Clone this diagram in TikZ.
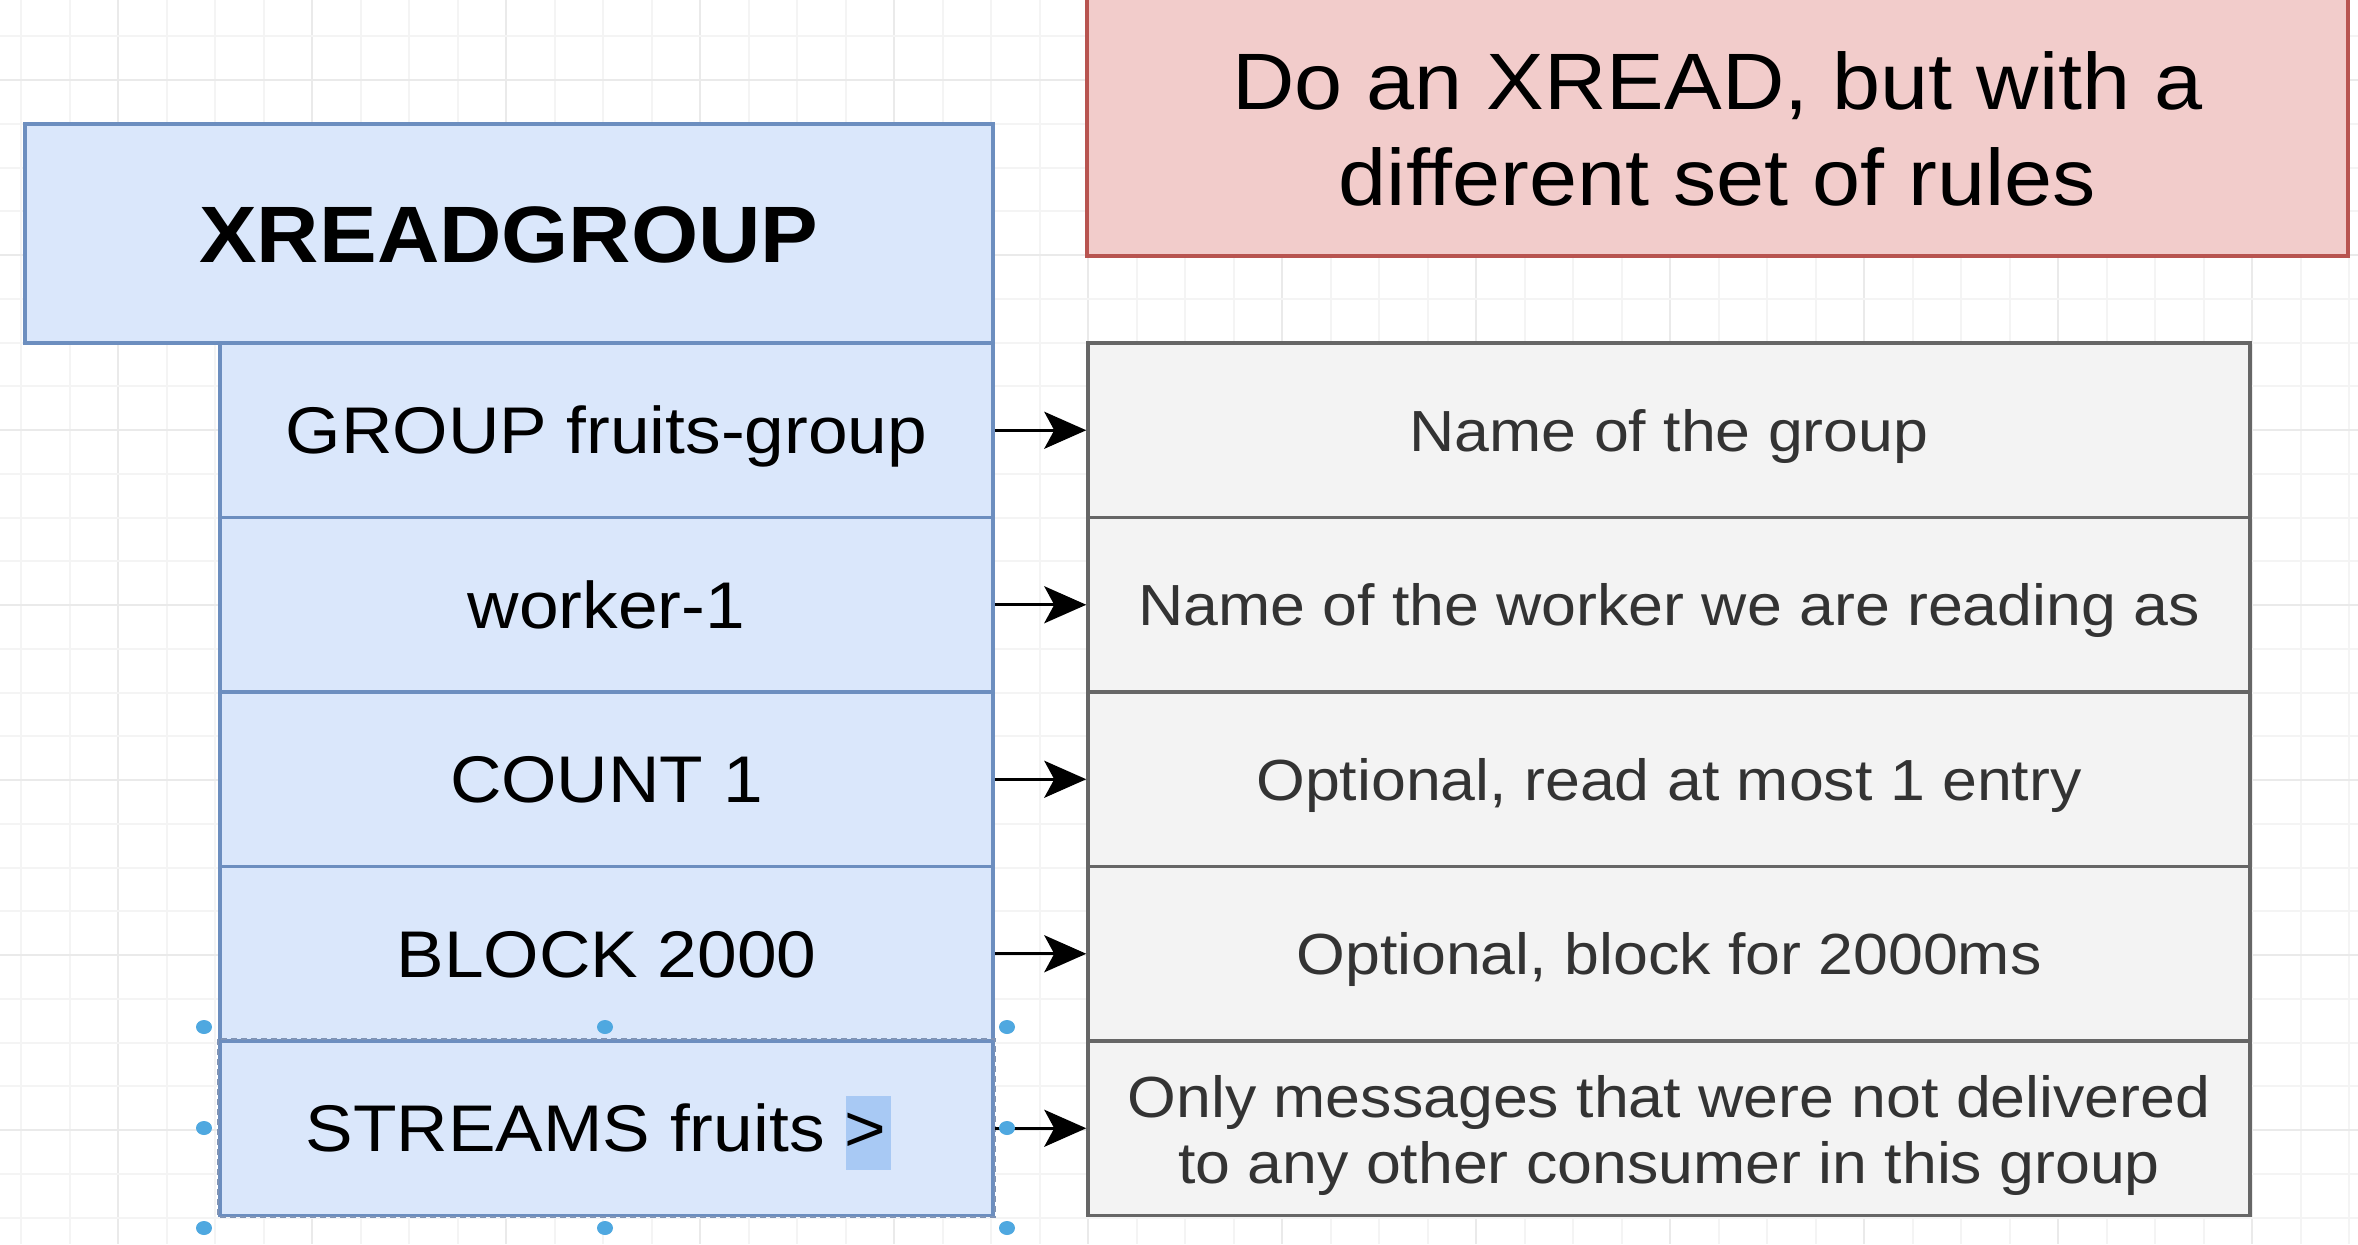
\documentclass[tikz,border=0pt]{standalone}
\usepackage{fontspec}
\setmainfont{Liberation Sans}[FakeStretch=1.08]
\usetikzlibrary{arrows.meta}
\definecolor{bluefill}{HTML}{DAE7FB}
\definecolor{bluedraw}{HTML}{6C8EBF}
\definecolor{grayfill}{HTML}{F3F3F3}
\definecolor{graydraw}{HTML}{666666}
\definecolor{graytext}{HTML}{333333}
\definecolor{redfill}{HTML}{F2CCCB}
\definecolor{reddraw}{HTML}{B85450}
\definecolor{gridminor}{HTML}{F4F4F4}
\definecolor{gridmajor}{HTML}{EAEAEA}
\definecolor{handle}{HTML}{4FA8E0}
\definecolor{selhl}{HTML}{A8C9F4}
\definecolor{seldash}{HTML}{7F93B5}
\begin{document}
\begin{tikzpicture}[x=0.5pt,y=-0.5pt,
  cmdbox/.style={draw=bluedraw, fill=bluefill, line width=1.75pt,
    minimum width=386.5pt, minimum height=87.25pt, inner sep=0pt,
    text height=23.6pt, text depth=0pt, font=\fontsize{33}{40}\selectfont},
  descbox/.style={draw=graydraw, fill=grayfill, line width=1.75pt,
    minimum width=581pt, minimum height=87.25pt, inner sep=0pt,
    text height=20.8pt, text depth=0pt, text=graytext,
    font=\fontsize{29}{33}\selectfont},
  arr/.style={line width=1.5pt, -{Stealth[length=21pt, width=18.5pt, inset=5pt]}},
  hdot/.style={fill=handle}
]
\useasboundingbox (0,0) rectangle (2358,1244);
\fill[white] (0,0) rectangle (2358,1244);
% grid
\foreach \k in {0,...,48}{
  \pgfmathtruncatemacro\m{mod(\k,4)}
  \ifnum\m=2
    \draw[gridmajor, line width=1pt] ({21+48.5*\k},0) -- ({21+48.5*\k},1244);
  \else
    \draw[gridminor, line width=1pt] ({21+48.5*\k},0) -- ({21+48.5*\k},1244);
  \fi
}
\foreach \j in {-1,...,26}{
  \pgfmathtruncatemacro\m{mod(\j+4,4)}
  \ifnum\m=0
    \draw[gridmajor, line width=1pt] (0,{80+43.75*\j}) -- (2358,{80+43.75*\j});
  \else
    \draw[gridminor, line width=1pt] (0,{80+43.75*\j}) -- (2358,{80+43.75*\j});
  \fi
}
% red box
\node[draw=reddraw, fill=redfill, line width=1.75pt, minimum width=630.5pt,
  minimum height=138pt, inner sep=0pt] (r) at (1717.5,118) {};
\node[align=center, font=\fontsize{40}{45}\selectfont, inner sep=0pt] (rt) at (1717.5,129)
  {Do an XREAD, but with a\\[3pt]different set of rules};
% title
\node[draw=bluedraw, fill=bluefill, line width=1.75pt, minimum width=484pt,
  minimum height=109.5pt, inner sep=0pt, text height=28.6pt, text depth=0pt,
  font=\bfseries\fontsize{40}{45}\selectfont] (t) at (509,233.5) {XREADGROUP};
% left column
\node[cmdbox] (c1) at (606.5,430.25) {GROUP fruits-group};
\node[cmdbox] (c2) at (606.5,604.75) {worker-1};
\node[cmdbox] (c3) at (606.5,779.25) {COUNT 1};
\node[cmdbox] (c4) at (606.5,953.75) {BLOCK 2000};
\node[cmdbox] (c5) at (606.5,1128.25) {};
\fill[selhl] (846,1096) rectangle (891,1170);
\node[cmdbox, draw=none, fill=none] (c5t) at (596,1128.25) {STREAMS fruits >};
\draw[seldash, line width=0.8pt, dash pattern=on 3pt off 2pt] (c5.north west) rectangle (c5.south east);
% right column
\node[descbox] (d1) at (1669,430.25) {Name of the group};
\node[descbox] (d2) at (1669,604.75) {Name of the worker we are reading as};
\node[descbox] (d3) at (1669,779.25) {Optional, read at most 1 entry};
\node[descbox] (d4) at (1669,953.75) {Optional, block for 2000ms};
\node[descbox] (d5) at (1669,1128.25) {};
\node[align=center, text=graytext, font=\fontsize{29}{33}\selectfont, inner sep=0pt] (d5t) at (1669,1135)
  {Only messages that were not delivered\\to any other consumer in this group};
% arrows
\draw[arr] (c1.east) -- (d1.west);
\draw[arr] (c2.east) -- (d2.west);
\draw[arr] (c3.east) -- (d3.west);
\draw[arr] (c4.east) -- (d4.west);
\draw[arr] (c5.east) -- (d5.west);
% selection handles
\foreach \hx/\hy in {204/1027,605/1027,1007/1027,204/1128,1007/1128,204/1228,605/1228,1007/1228}
  \fill[hdot] (\hx,\hy) ellipse (4pt and 3.5pt);
\end{tikzpicture}
\end{document}
